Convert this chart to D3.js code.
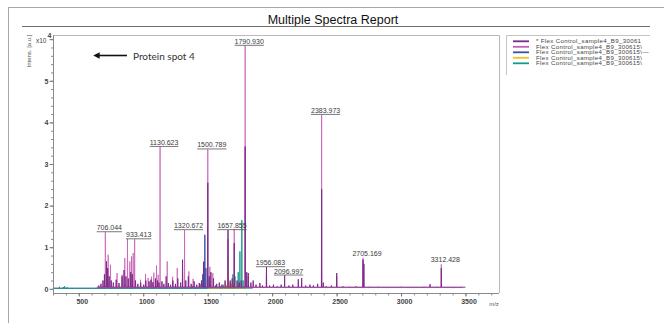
<!DOCTYPE html>
<html>
<head>
<meta charset="utf-8">
<script src="https://cdn.jsdelivr.net/npm/d3@7/dist/d3.min.js"></script>
<style>
  html, body { margin: 0; padding: 0; background: #fff; }
  svg { display: block; font-family: Arial, "Liberation Sans", sans-serif; }
</style>
</head>
<body>
<svg id="chart" width="664" height="323"></svg>
<script>
// ---- data (intensity in units of 10^4 a.u.) ----
const seriesNames = [
  "* Flex Control_sample4_B9_30061",
  "Flex Control_sample4_B9_300615\\",
  "Flex Control_sample4_B9_300615\\\u2014",
  "Flex Control_sample4_B9_300615\\",
  "Flex Control_sample4_B9_300615\\"
];
const seriesColors = ["#7a2a86", "#c85cb6", "#3b50a6", "#f2c21a", "#189a8b"];

// m/z span covered by each spectrum and its baseline level
const seriesSpan = [[640, 3500], [650, 3480], [300, 1800], [1500, 1800], [300, 1850]];
const seriesBase = [0.04, 0.03, 0.012, 0.02, 0.015];

// peak lists [m/z, intensity]
const peaks1 = [
  [655,0.08],[672,0.12],[688,0.2],[699,0.35],[715,0.66],[724,0.5],[736,0.3],[752,0.2],
  [768,0.15],[790,0.22],[812,0.14],[836,0.3],[851,0.45],[866,0.3],[884,0.25],[903,0.4],
  [915,0.35],[940,0.2],[958,0.12],[980,0.15],[1004,0.1],[1020,0.2],[1045,0.18],[1060,0.22],
  [1075,0.16],[1095,0.25],[1110,0.2],[1122,0.15],[1145,0.18],[1160,0.12],[1178,0.3],[1195,0.14],
  [1212,0.1],[1230,0.2],[1250,0.12],[1268,0.25],[1290,0.15],[1305,0.7],[1330,0.2],[1350,0.3],
  [1372,0.12],[1395,0.18],[1415,0.1],[1435,0.14],[1452,0.2],[1468,0.65],[1500.789,2.55],[1512,0.3],
  [1525,0.4],[1545,0.25],[1570,0.12],[1590,0.15],[1610,0.1],[1635,0.2],[1657.855,1.41],[1675,0.2],
  [1690,0.25],[1706,1.1],[1728,0.2],[1745,0.15],[1760,0.2],[1790.930,3.42],[1803,0.4],[1815,0.38],
  [1835,0.15],[1853,0.2],[1875,0.1],[1905,0.14],[1925,0.08],[1956.083,0.52],[1980,0.08],[2010,0.1],
  [2040,0.06],[2070,0.1],[2096.997,0.32],[2130,0.08],[2160,0.1],[2203,0.23],[2229,0.26],[2260,0.08],
  [2293,0.1],[2320,0.08],[2353,0.12],[2383.973,2.4],[2397,0.15],[2420,0.06],[2460,0.08],[2501,0.38],
  [2550,0.06],[2600,0.05],[2650,0.06],[2705.169,0.7],[2712,0.6],[2760,0.05],[2820,0.05],[2900,0.04],
  [3000,0.05],[3100,0.04],[3180,0.05],[3225,0.11],[3280,0.05],[3312.428,0.5],[3400,0.04]
];
const peaks2 = [
  [706.044,1.36],[728,0.82],[746,0.58],[797,0.38],[836,0.34],[857,0.74],[878,1.2],[896,0.66],
  [909,0.78],[922,0.86],[933.413,1.19],[979,0.22],[1018,0.36],[1038,0.26],[1064,0.29],[1082,0.39],
  [1103,0.56],[1116,0.34],[1130.623,3.41],[1186,0.66],[1228,0.29],[1264,0.5],[1305,0.46],
  [1320.672,1.41],[1354,0.42],[1387,0.24],[1500.789,3.35],[1517,0.53],[1540,0.38],[1657.855,1.2],
  [1706,1.44],[1790.930,5.84],[1815,0.3],[1956.083,0.4],[2383.973,4.18],[2501,0.3],
  [2705.169,0.74],[3312.428,0.59]
];
const peaks3 = [
  [380,0.04],[1100,0.06],[1250,0.08],[1380,0.07],[1440,0.12],[1462,0.35],[1470,0.65],
  [1478,1.3],[1486,0.5],[1500,0.2],[1520,0.1],[1560,0.08],[1600,0.06],[1650,0.08],[1700,0.1],[1740,0.12]
];
const peaks4 = [
  [1600,0.05],[1640,0.12],[1655,0.78],[1670,0.15],[1690,0.1],[1710,0.08],[1730,0.06]
];
const peaks5 = [
  [350,0.05],[390,0.06],[410,0.04],[1620,0.1],[1680,0.12],[1696,0.35],[1712,0.3],
  [1737,0.4],[1750,0.9],[1765,1.65],[1775,0.2]
];
const peakLists = [peaks1, peaks2, peaks3, peaks4, peaks5];

// annotated peaks (m/z) and whether their label is underlined
const labeledPeaks = [706.044, 933.413, 1130.623, 1320.672, 1500.789, 1657.855, 1790.930,
                      1956.083, 2096.997, 2383.973, 2705.169, 3312.428];
const labelUnderlined = [true, true, true, true, true, true, true, true, true, true, false, false];

const xMajorTicks = [500, 1000, 1500, 2000, 2500, 3000, 3500];
const xMinorTicks = d3.range(300, 3800, 100);
const yMajorTicks = [0, 1, 2, 3, 4, 5, 6];
const yTickLabels = ["0", "1", "2", "3", "4", "5", ""];
const yMinorTicks = d3.range(0, 6.01, 0.2);

// ---- layout ----
const svg = d3.select("#chart");
const plot = { left: 53, right: 499, top: 35, bottom: 293 };

const x = d3.scaleLinear().domain([300, 3760]).range([plot.left, plot.right]);
const y = d3.scaleLinear().domain([-0.1, 6.1]).range([plot.bottom, plot.top]);

// outer report frame
svg.append("line").attr("x1", 8).attr("x2", 664).attr("y1", 7.5).attr("y2", 7.5)
  .attr("stroke", "#a8a8a8");
svg.append("line").attr("x1", 8.5).attr("x2", 8.5).attr("y1", 7).attr("y2", 323)
  .attr("stroke", "#a8a8a8");

// title
svg.append("text").attr("x", 333).attr("y", 24).attr("text-anchor", "middle")
  .attr("font-size", 12.5).attr("fill", "#111").text("Multiple Spectra Report");
svg.append("line").attr("x1", 22).attr("x2", 650).attr("y1", 26.5).attr("y2", 26.5)
  .attr("stroke", "#6e6e6e").attr("stroke-width", 1.2);

// plot frame (top and right)
svg.append("path")
  .attr("d", `M${plot.left},${plot.top + 0.5}H${plot.right + 0.5}V${plot.bottom}`)
  .attr("fill", "none").attr("stroke", "#b8b8b8");

// spectra
const line = d3.line().x(d => x(d[0])).y(d => y(d[1]));
const halfWidth = 1.4;
const spectrumPoints = (i) => {
  const base = seriesBase[i];
  const pts = [[seriesSpan[i][0], base]];
  peakLists[i].slice().sort((a, b) => a[0] - b[0]).forEach(([m, h]) => {
    pts.push([m - halfWidth, base], [m, h], [m + halfWidth, base]);
  });
  pts.push([seriesSpan[i][1], base]);
  return pts;
};
const drawOrder = [2, 4, 3, 1, 0];
const specG = svg.append("g");
drawOrder.forEach(i => {
  specG.append("path")
    .attr("d", line(spectrumPoints(i)))
    .attr("fill", "none")
    .attr("stroke", seriesColors[i])
    .attr("stroke-width", i === 1 ? 0.9 : 1)
    .attr("stroke-opacity", i === 1 ? 0.85 : 0.95)
    .attr("stroke-linejoin", "round");
});

// x axis
const xAxisG = svg.append("g").attr("transform", `translate(0,${plot.bottom})`);
xAxisG.append("line").attr("x1", plot.left).attr("x2", plot.right).attr("y1", 0.5).attr("y2", 0.5)
  .attr("stroke", "#8a8a8a");
xAxisG.call(g => g.append("g")
  .call(d3.axisBottom(x).tickValues(xMinorTicks).tickSize(2.5).tickFormat(""))
  .call(a => a.select(".domain").remove())
  .call(a => a.selectAll("line").attr("stroke", "#8a8a8a")));
xAxisG.call(g => g.append("g")
  .call(d3.axisBottom(x).tickValues(xMajorTicks).tickSize(3.5).tickPadding(3).tickFormat(d3.format("d")))
  .call(a => a.select(".domain").remove())
  .call(a => a.selectAll("line").attr("stroke", "#777"))
  .call(a => a.selectAll("text").attr("font-size", 7).attr("fill", "#444")
    .attr("font-family", "Arial, sans-serif").attr("dx", 3).attr("font-weight", "bold")));
svg.append("text").attr("x", 494).attr("y", 306).attr("text-anchor", "middle")
  .attr("font-size", 6).attr("fill", "#555").text("m/z");

// y axis
const yAxisG = svg.append("g").attr("transform", `translate(${plot.left},0)`);
yAxisG.append("line").attr("x1", 0.5).attr("x2", 0.5).attr("y1", plot.top).attr("y2", plot.bottom)
  .attr("stroke", "#8a8a8a");
yAxisG.call(g => g.append("g")
  .call(d3.axisLeft(y).tickValues(yMinorTicks).tickSize(2).tickFormat(""))
  .call(a => a.select(".domain").remove())
  .call(a => a.selectAll("line").attr("stroke", "#8a8a8a")));
yAxisG.call(g => g.append("g")
  .call(d3.axisLeft(y).tickValues(yMajorTicks).tickSize(3.5).tickPadding(1)
    .tickFormat((d, i) => yTickLabels[i]))
  .call(a => a.select(".domain").remove())
  .call(a => a.selectAll("line").attr("stroke", "#777"))
  .call(a => a.selectAll("text").attr("font-size", 7).attr("fill", "#444")
    .attr("font-family", "Arial, sans-serif").attr("font-weight", "bold")));

// exponent marker
const expT = svg.append("text").attr("x", 36).attr("y", 42.5).attr("font-size", 6.5).attr("fill", "#444");
expT.append("tspan").text("x10");
expT.append("tspan").attr("dy", -5).attr("dx", 1).attr("font-size", 7).attr("font-weight", "bold").text("4");

// y title
svg.append("text")
  .attr("transform", `translate(31,51) rotate(-90)`)
  .attr("text-anchor", "middle").attr("font-size", 6).attr("fill", "#555")
  .text("Intens. [a.u.]");

// peak labels
const fmt = d3.format(".3f");
const peakTop = (m) => d3.max(peakLists, list => {
  const hit = list.find(p => Math.abs(p[0] - m) < 0.01);
  return hit ? hit[1] : undefined;
});
const labG = svg.append("g");
labeledPeaks.forEach((m, i) => {
  const px = x(m) + 4;
  const py = y(peakTop(m));
  const t = labG.append("text").attr("x", px).attr("y", py - 2)
    .attr("text-anchor", "middle").attr("font-size", 7).attr("fill", "#3a3a3a")
    .text(fmt(m));
  if (labelUnderlined[i]) {
    const w = t.node().getComputedTextLength();
    labG.append("line").attr("x1", px - w / 2).attr("x2", px + w / 2)
      .attr("y1", py - 0.5).attr("y2", py - 0.5)
      .attr("stroke", "#555").attr("stroke-width", 0.8);
  }
});

// annotation arrow
const defs = svg.append("defs");
defs.append("marker").attr("id", "head").attr("viewBox", "0 0 10 10")
  .attr("refX", 1).attr("refY", 5).attr("markerWidth", 4).attr("markerHeight", 4)
  .attr("orient", "auto-start-reverse")
  .append("path").attr("d", "M0,0L10,5L0,10z").attr("fill", "#111");
svg.append("line").attr("x1", 127).attr("x2", 99).attr("y1", 55.5).attr("y2", 55.5)
  .attr("stroke", "#111").attr("stroke-width", 1.6).attr("marker-end", "url(#head)");
svg.append("text").attr("x", 133).attr("y", 59.5).attr("font-family", "Lato, 'Open Sans', sans-serif")
  .attr("font-size", 10).attr("fill", "#333").text("Protein spot 4");

// legend
const lg = svg.append("g");
lg.append("path").attr("d", "M506.5,75V35.5H650").attr("fill", "none").attr("stroke", "#c4c4c4");
seriesNames.forEach((name, i) => {
  const ry = 41.3 + i * 5.5;
  lg.append("line").attr("x1", 513).attr("x2", 529).attr("y1", ry).attr("y2", ry)
    .attr("stroke", seriesColors[i]).attr("stroke-width", 1.8);
  lg.append("text").attr("x", 536).attr("y", ry + 2.1).attr("font-size", 6.1)
    .attr("letter-spacing", 0.35).attr("fill", "#444").text(name);
});
</script>
</body>
</html>
